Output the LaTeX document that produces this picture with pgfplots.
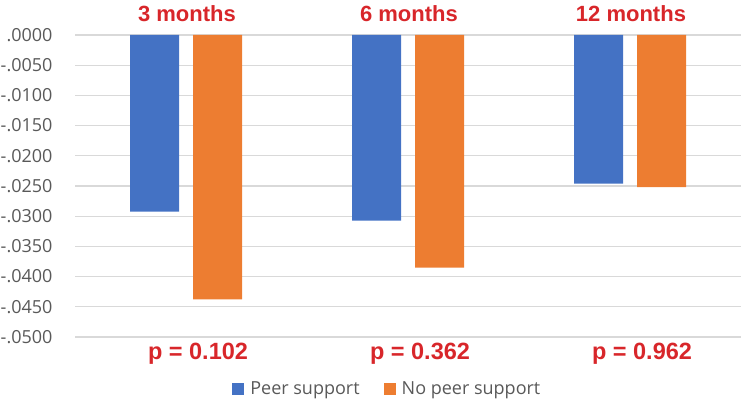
\documentclass[border=0pt]{standalone}
\usepackage{pgfplots}
\pgfplotsset{compat=1.18}
\usepackage{fontspec}
\setmainfont{Open Sans}
\newfontfamily\titlefont{Liberation Sans}
\definecolor{cblue}{HTML}{4472C4}
\definecolor{corange}{HTML}{ED7D31}
\definecolor{cred}{HTML}{D8262A}
\definecolor{cgray}{HTML}{595959}
\definecolor{cgrid}{HTML}{D9D9D9}
\begin{document}
\begin{tikzpicture}
\path[use as bounding box] (0,0) rectangle (742bp,401bp);
\begin{axis}[
  at={(75bp,64bp)}, anchor=south west,
  scale only axis, width=666bp, height=302bp,
  xmin=-0.5, xmax=2.5, ymin=-0.05, ymax=0,
  ybar=14bp, bar width=49bp,
  axis line style={draw=none},
  major tick length=0pt,
  xtick=\empty,
  scaled y ticks=false,
  ytick={0,-0.005,-0.01,-0.015,-0.02,-0.025,-0.03,-0.035,-0.04,-0.045,-0.05},
  yticklabels={.0000,-.0050,-.0100,-.0150,-.0200,-.0250,-.0300,-.0350,-.0400,-.0450,-.0500},
  yticklabel style={font=\fontsize{18bp}{20bp}\selectfont, text=cgray, anchor=east, xshift=-19bp},
  ymajorgrids, grid style={cgrid, line width=1.3bp},
  clip=false,
  legend style={at={(0.469,-0.172)}, anchor=center, draw=none, fill=none,
    legend columns=-1, font=\fontsize{18bp}{20bp}\selectfont, text=cgray,
    /tikz/every even column/.append style={column sep=22bp},
    /tikz/every odd column/.append style={column sep=4bp},
    inner sep=0pt},
  legend image code/.code={\fill[#1] (0bp,-6bp) rectangle (12bp,6bp);},
]
\addplot[fill=cblue, draw=none] coordinates {(0,-0.02925) (1,-0.03074) (2,-0.02461)};
\addplot[fill=corange, draw=none] coordinates {(0,-0.04376) (1,-0.03852) (2,-0.02517)};
\legend{Peer support, No peer support}
\foreach \x/\t in {0/3 months,1/6 months,2/12 months}{
  \edef\tmp{\noexpand\node[font=\noexpand\titlefont\noexpand\bfseries\noexpand\fontsize{22bp}{26bp}\noexpand\selectfont, text=cred] at (axis cs:\x,0) [xshift=1bp, yshift=21bp] {\t};}\tmp
}
\foreach \x/\t in {0/0.102,1/0.362,2/0.962}{
  \edef\tmp{\noexpand\node[font=\noexpand\titlefont\noexpand\bfseries\noexpand\fontsize{23.5bp}{26bp}\noexpand\selectfont, text=cred] at (axis cs:\x,-0.05) [xshift=12bp, yshift=-17bp] {p = \t};}\tmp
}
\end{axis}
\end{tikzpicture}
\end{document}
